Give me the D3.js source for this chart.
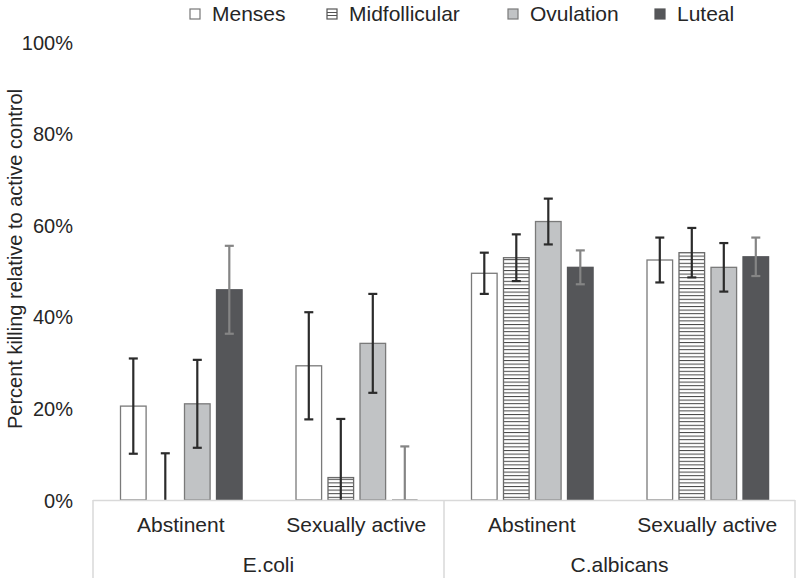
<!DOCTYPE html>
<html>
<head>
<meta charset="utf-8">
<script src="https://cdn.jsdelivr.net/npm/d3@7"></script>
<style>
  body { margin: 0; background: #fff; }
  svg { display: block; font-family: "Liberation Sans", Arial, sans-serif; }
</style>
</head>
<body>
<svg id="chart" width="800" height="586"></svg>
<script>
// ---- Data ----
const phases = ["Menses", "Midfollicular", "Ovulation", "Luteal"];
const groups = ["Abstinent", "Sexually active", "Abstinent", "Sexually active"];
const organisms = ["E.coli", "C.albicans"];
const yTicks = [0, 20, 40, 60, 80, 100];

const menses        = [20.5, 29.3, 49.5, 52.4];
const midfollicular = [0.0,  4.9,  52.9, 54.0];
const ovulation     = [21.0, 34.2, 60.8, 50.8];
const luteal        = [45.9, 0.0,  50.8, 53.1];

const mensesErr        = [10.4, 11.7, 4.5, 4.9];
const midfollicularErr = [10.2, 12.8, 5.1, 5.4];
const ovulationErr     = [9.6,  10.8, 5.0, 5.3];
const lutealErr        = [9.6,  11.7, 3.7, 4.2];

const values = [menses, midfollicular, ovulation, luteal];
const errors = [mensesErr, midfollicularErr, ovulationErr, lutealErr];

// ---- Setup ----
const svg = d3.select("#chart");
const plotLeft = 93, plotRight = 795, plotTop = 42, plotBottom = 500;
const textCol = "#262626";

const defs = svg.append("defs");
const pat = defs.append("pattern")
  .attr("id", "hstripe").attr("patternUnits", "userSpaceOnUse")
  .attr("width", 8).attr("height", 3.6);
pat.append("rect").attr("width", 8).attr("height", 3.6).attr("fill", "#fff");
pat.append("line").attr("x1", 0).attr("x2", 8).attr("y1", 0.5).attr("y2", 0.5)
  .attr("stroke", "#444").attr("stroke-width", 1);

const fills = ["#ffffff", "url(#hstripe)", "#c1c3c5", "#555659"];
const strokes = ["#7a7a7a", "#6a6a6a", "#7a7a7a", "#555659"];
const errColors = ["#2b2b2b", "#2b2b2b", "#2b2b2b", "#858585"];

const y = d3.scaleLinear().domain([0, 100]).range([plotBottom, plotTop]);
const x0 = d3.scaleBand().domain(d3.range(groups.length)).range([plotLeft, plotRight]).padding(0);
const x1 = d3.scaleBand().domain(phases).range([27.5, 149.1]).paddingInner(0.2).paddingOuter(0);

// ---- Y axis (labels only) ----
const yAxis = d3.axisLeft(y).tickValues(yTicks).tickFormat(d => d + "%").tickSize(0).tickPadding(0);
const yg = svg.append("g").attr("transform", `translate(73,0)`).call(yAxis);
yg.select(".domain").remove();
yg.selectAll("text").attr("font-size", 20).attr("fill", textCol)
  .attr("font-family", "Liberation Sans, Arial, sans-serif").attr("dy", "0.35em");

svg.append("text")
  .attr("transform", `translate(22,259) rotate(-90)`)
  .attr("text-anchor", "middle").attr("font-size", 20).attr("fill", textCol)
  .text("Percent killing relative to active control");

// ---- Bars ----
const data = [];
groups.forEach((g, gi) => {
  phases.forEach((p, pi) => {
    data.push({gi, pi, phase: p, v: values[pi][gi], e: errors[pi][gi]});
  });
});

const barG = svg.append("g");
barG.selectAll("rect").data(data).enter().append("rect")
  .attr("x", d => x0(d.gi) + x1(d.phase))
  .attr("y", d => y(d.v))
  .attr("width", x1.bandwidth())
  .attr("height", d => y(0) - y(d.v))
  .attr("fill", d => fills[d.pi])
  .attr("stroke", d => d.v > 0 ? strokes[d.pi] : "none")
  .attr("stroke-width", 1.3);

// zero-height luteal marker (thin line at base)
barG.selectAll("line.zero").data(data.filter(d => d.v === 0 && d.pi === 3)).enter().append("line")
  .attr("x1", d => x0(d.gi) + x1(d.phase)).attr("x2", d => x0(d.gi) + x1(d.phase) + x1.bandwidth())
  .attr("y1", y(0) - 0.5).attr("y2", y(0) - 0.5).attr("stroke", "#aaa").attr("stroke-width", 1);

// ---- Error bars ----
const errG = svg.append("g");
data.forEach(d => {
  const cx = x0(d.gi) + x1(d.phase) + x1.bandwidth() / 2;
  const hi = d.v + d.e, lo = Math.max(0, d.v - d.e);
  const c = errColors[d.pi];
  const g = errG.append("g").attr("stroke", c).attr("stroke-width", 2.2);
  g.append("line").attr("x1", cx).attr("x2", cx).attr("y1", y(hi)).attr("y2", y(lo));
  g.append("line").attr("x1", cx - 4.5).attr("x2", cx + 4.5).attr("y1", y(hi)).attr("y2", y(hi));
  if (d.v - d.e > 0) {
    g.append("line").attr("x1", cx - 4.5).attr("x2", cx + 4.5).attr("y1", y(lo)).attr("y2", y(lo));
  }
});

// ---- X axis frame ----
const axisCol = "#d9d9d9";
svg.append("line").attr("x1", plotLeft).attr("x2", plotRight).attr("y1", plotBottom + 0.5).attr("y2", plotBottom + 0.5)
  .attr("stroke", axisCol).attr("stroke-width", 1.5);
[0, 2, 4].forEach(i => {
  const xv = i < groups.length ? x0(i) : plotRight;
  svg.append("line").attr("x1", xv).attr("x2", xv).attr("y1", plotBottom).attr("y2", 578)
    .attr("stroke", axisCol).attr("stroke-width", 1.5);
});

svg.append("g").selectAll("text").data(groups).enter().append("text")
  .attr("x", (d, i) => x0(i) + x0.bandwidth() / 2)
  .attr("y", 532).attr("text-anchor", "middle").attr("font-size", 21).attr("fill", textCol)
  .text(d => d);

svg.append("g").selectAll("text").data(organisms).enter().append("text")
  .attr("x", (d, i) => x0(i * 2) + x0.bandwidth())
  .attr("y", 572).attr("text-anchor", "middle").attr("font-size", 21).attr("fill", textCol)
  .text(d => d);

// ---- Legend ----
const legendX = [190, 327, 508, 655];
const leg = svg.append("g");
phases.forEach((p, i) => {
  const g = leg.append("g").attr("transform", `translate(${legendX[i]},9)`);
  if (i === 1) {
    g.append("rect").attr("width", 10).attr("height", 10).attr("fill", "#fff")
      .attr("stroke", "#555").attr("stroke-width", 1.2);
    [3.5, 6.5].forEach(yy => g.append("line").attr("x1", 0).attr("x2", 10).attr("y1", yy).attr("y2", yy)
      .attr("stroke", "#555").attr("stroke-width", 1));
  } else {
    g.append("rect").attr("width", 10).attr("height", 10).attr("fill", fills[i])
      .attr("stroke", i === 0 ? "#777" : strokes[i]).attr("stroke-width", 1.2);
  }
  g.append("text").attr("x", 22).attr("y", 5).attr("dy", "0.35em")
    .attr("font-size", 21).attr("fill", textCol).text(p);
});
</script>
</body>
</html>
